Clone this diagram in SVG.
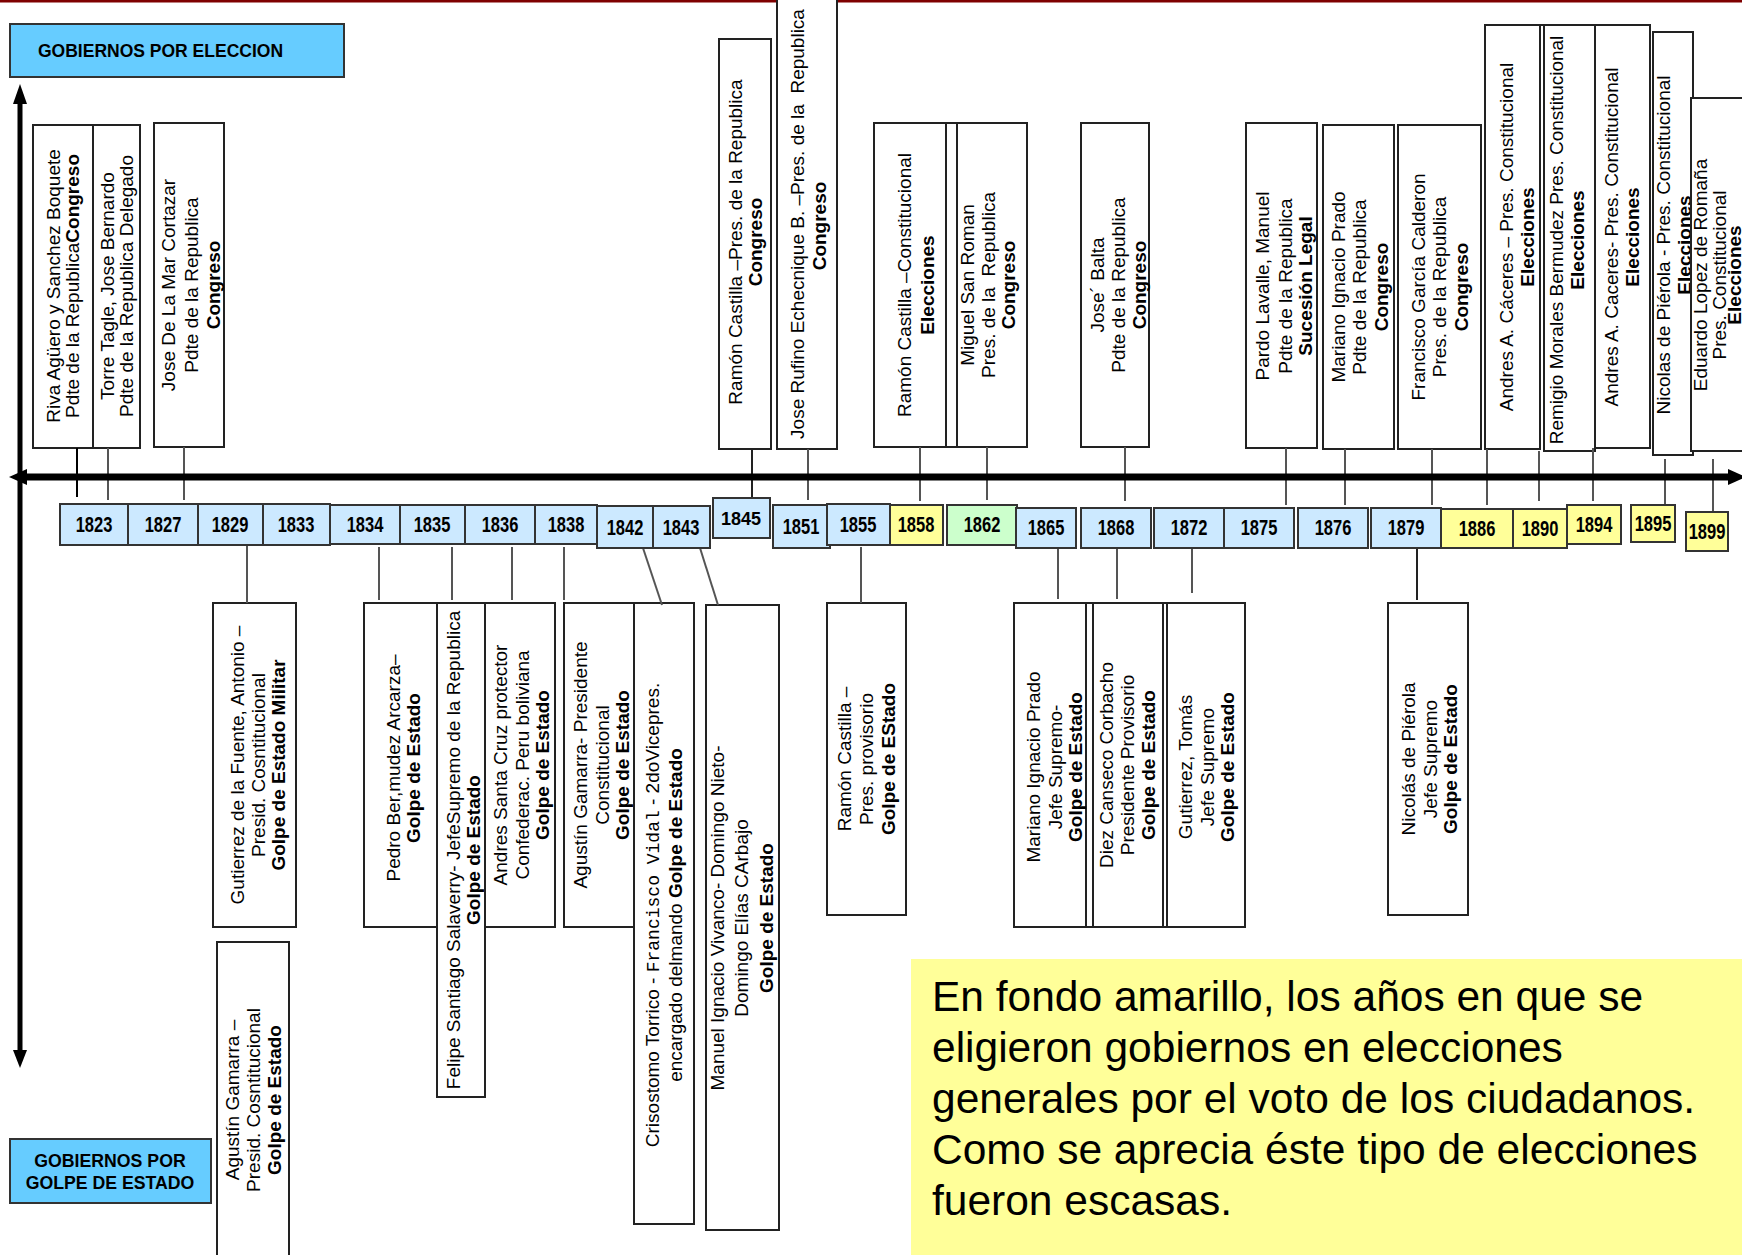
<svg xmlns="http://www.w3.org/2000/svg" width="1742" height="1255" viewBox="0 0 1742 1255">
<style>
.t{font-family:"Liberation Sans",Arial,sans-serif;font-size:19px;fill:#000;text-anchor:middle}
.b{font-weight:bold}
.m{font-family:"Liberation Mono","Courier New",monospace;font-size:18px}
.box{fill:#fff;stroke:#222;stroke-width:2}
.yr{fill:#CCE9FF;stroke:#333;stroke-width:2}
.yy{fill:#FFFF99;stroke:#333;stroke-width:2}
.yg{fill:#CCFFCC;stroke:#333;stroke-width:2}
.yt{font-family:"Liberation Sans",Arial,sans-serif;font-size:22px;font-weight:bold;fill:#000;text-anchor:middle}
.hd{fill:#66CCFF;stroke:#333;stroke-width:2}
.ht{font-family:"Liberation Sans",Arial,sans-serif;font-size:17.5px;font-weight:bold;fill:#000}
.c{stroke:#555;stroke-width:2;fill:none}
.note{font-family:"Liberation Sans",Arial,sans-serif;font-size:42.5px;fill:#000}
</style>
<rect width="1742" height="1255" fill="#fff"/>
<rect x="0" y="0" width="1742" height="2.5" fill="#7F0000"/>

<!-- top boxes (elected) -->
<g id="n-riva"><rect class="box" x="33" y="125" width="60" height="323"/>
<text class="t" transform="translate(60,286) rotate(-90)">Riva Agüero y Sanchez Boquete</text>
<text class="t" transform="translate(79,286) rotate(-90)">Pdte de la Republica<tspan class="b">Congreso</tspan></text></g>
<g id="n-torre"><rect class="box" x="93" y="125" width="47" height="323"/>
<text class="t" transform="translate(114,286) rotate(-90)">Torre Tagle, Jose Bernardo</text>
<text class="t" transform="translate(133,286) rotate(-90)">Pdte de la Republica Delegado</text></g>
<g id="n-lamar"><rect class="box" x="154" y="123" width="70" height="324"/>
<text class="t" transform="translate(175,285) rotate(-90)">Jose De La Mar Cortazar</text>
<text class="t" transform="translate(198,285) rotate(-90)">Pdte de la Republica</text>
<text class="t b" transform="translate(220,285) rotate(-90)">Congreso</text></g>
<g id="n-castilla1"><rect class="box" x="719" y="39" width="52" height="410"/>
<text class="t" transform="translate(742,242) rotate(-90)">Ramón Castilla –Pres. de la Republica</text>
<text class="t b" transform="translate(762,242) rotate(-90)">Congreso</text></g>
<g id="n-rufino"><rect class="box" x="777" y="-5" width="60" height="454"/>
<text class="t" xml:space="preserve" transform="translate(804,224) rotate(-90)">Jose Rufino Echecnique B. –Pres. de la  Republica</text>
<text class="t b" transform="translate(826,226) rotate(-90)">Congreso</text></g>
<g id="n-castilla2"><rect class="box" x="874" y="123" width="75" height="324"/><rect class="box" x="946" y="123" width="11" height="324"/>
<text class="t" transform="translate(911,285) rotate(-90)">Ramón Castilla –Constitucional</text>
<text class="t b" transform="translate(934,285) rotate(-90)">Elecciones</text></g>
<g id="n-sanroman"><rect class="box" x="957" y="123" width="70" height="324"/>
<text class="t" transform="translate(974,285) rotate(-90)">Miguel San Roman</text>
<text class="t" xml:space="preserve" transform="translate(995,285) rotate(-90)">Pres. de la  Republica</text>
<text class="t b" transform="translate(1015,285) rotate(-90)">Congreso</text></g>
<g id="n-balta"><rect class="box" x="1081" y="123" width="68" height="324"/>
<text class="t" transform="translate(1104,285) rotate(-90)">Jose´ Balta</text>
<text class="t" transform="translate(1125,285) rotate(-90)">Pdte de la Republica</text>
<text class="t b" transform="translate(1146,285) rotate(-90)">Congreso</text></g>
<g id="n-pardo"><rect class="box" x="1246" y="123" width="71" height="325"/>
<text class="t" transform="translate(1269,286) rotate(-90)">Pardo Lavalle, Manuel</text>
<text class="t" transform="translate(1292,286) rotate(-90)">Pdte de la Republica</text>
<text class="t b" transform="translate(1312,286) rotate(-90)">Sucesión Legal</text></g>
<g id="n-prado1"><rect class="box" x="1323" y="125" width="71" height="324"/>
<text class="t" transform="translate(1345,287) rotate(-90)">Mariano Ignacio Prado</text>
<text class="t" transform="translate(1366,287) rotate(-90)">Pdte de la Republica</text>
<text class="t b" transform="translate(1388,287) rotate(-90)">Congreso</text></g>
<g id="n-garcia"><rect class="box" x="1398" y="125" width="83" height="324"/>
<text class="t" transform="translate(1425,287) rotate(-90)">Francisco García Calderon</text>
<text class="t" transform="translate(1446,287) rotate(-90)">Pres. de la Republica</text>
<text class="t b" transform="translate(1468,287) rotate(-90)">Congreso</text></g>
<g id="n-caceres1"><rect class="box" x="1485" y="25" width="55" height="424"/>
<text class="t" transform="translate(1513,237) rotate(-90)">Andres A. Cáceres – Pres. Constitucional</text>
<text class="t b" transform="translate(1534,237) rotate(-90)">Elecciones</text></g>
<g id="n-morales"><rect class="box" x="1544" y="25" width="51" height="426"/><line x1="1540" y1="25" x2="1544" y2="25" stroke="#222" stroke-width="2"/>
<text class="t" transform="translate(1563,240) rotate(-90)">Remigio Morales Bermudez Pres. Constitucional</text>
<text class="t b" transform="translate(1584,240) rotate(-90)">Elecciones</text></g>
<g id="n-caceres2"><rect class="box" x="1595" y="25" width="55" height="423"/>
<text class="t" transform="translate(1618,237) rotate(-90)">Andres A. Caceres- Pres. Constitucional</text>
<text class="t b" transform="translate(1639,237) rotate(-90)">Elecciones</text></g>
<g id="n-pierola1"><rect class="box" x="1653" y="32" width="40" height="423"/>
<text class="t" transform="translate(1670,245) rotate(-90)">Nicolas de Piérola - Pres. Constitucional</text>
<text class="t b" text-decoration="underline" transform="translate(1691,245) rotate(-90)">Elecciones</text></g>
<g id="n-romana"><rect class="box" x="1691" y="98" width="70" height="353"/>
<text class="t" transform="translate(1707,275) rotate(-90)">Eduardo Lopez de Romaña</text>
<text class="t" transform="translate(1726,275) rotate(-90)">Pres. Constitucional</text>
<text class="t b" transform="translate(1741,275) rotate(-90)">Elecciones</text></g>

<!-- bottom boxes (coups) -->
<g id="n-gutierrez"><rect class="box" x="213" y="603" width="83" height="324"/>
<text class="t" transform="translate(244,765) rotate(-90)">Gutierrez de la Fuente, Antonio –</text>
<text class="t" transform="translate(265,765) rotate(-90)">Presid. Cosntitucional</text>
<text class="t b" transform="translate(285,765) rotate(-90)">Golpe de Estado Militar</text></g>
<g id="n-gamarra1"><rect class="box" x="217" y="942" width="72" height="330"/>
<text class="t" transform="translate(239,1100) rotate(-90)">Agustín Gamarra –</text>
<text class="t" transform="translate(260,1100) rotate(-90)">Presid. Cosntitucional</text>
<text class="t b" transform="translate(281,1100) rotate(-90)">Golpe de Estado</text></g>
<g id="n-bermudez"><rect class="box" x="364" y="603" width="73" height="324"/>
<text class="t" transform="translate(400,768) rotate(-90)">Pedro Ber,mudez Arcarza–</text>
<text class="t b" transform="translate(420,768) rotate(-90)">Golpe de Estado</text></g>
<g id="n-salaverry"><rect class="box" x="437" y="603" width="48" height="494" stroke-width="3"/>
<text class="t" transform="translate(460,850) rotate(-90)">Felipe Santiago Salaverry- JefeSupremo de la Republica</text>
<text class="t b" transform="translate(480,850) rotate(-90)">Golpe de Estado</text></g>
<g id="n-santacruz"><rect class="box" x="485" y="603" width="70" height="324"/>
<text class="t" transform="translate(507,765) rotate(-90)">Andres Santa Cruz protector</text>
<text class="t" transform="translate(529,765) rotate(-90)">Confederac. Peru boliviana</text>
<text class="t b" transform="translate(549,765) rotate(-90)">Golpe de Estado</text></g>
<g id="n-gamarra2"><rect class="box" x="564" y="603" width="70" height="324"/>
<text class="t" transform="translate(587,765) rotate(-90)">Agustín Gamarra- Presidente</text>
<text class="t" transform="translate(609,765) rotate(-90)">Constitucional</text>
<text class="t b" transform="translate(629,765) rotate(-90)">Golpe de Estado</text></g>
<g id="n-torrico"><rect class="box" x="634" y="603" width="60" height="621"/>
<text class="t" transform="translate(659,915) rotate(-90)">Crisostomo Torrico - <tspan class="m">Francisco Vidal</tspan> - 2doVicepres.</text>
<text class="t" transform="translate(682,915) rotate(-90)">encargado delmando <tspan class="b">Golpe de Estado</tspan></text></g>
<g id="n-vivanco"><rect class="box" x="706" y="605" width="73" height="625"/>
<text class="t" transform="translate(724,918) rotate(-90)">Manuel Ignacio Vivanco- Domingo Nieto-</text>
<text class="t" transform="translate(748,918) rotate(-90)">Domingo Elías CArbajo</text>
<text class="t b" transform="translate(773,918) rotate(-90)">Golpe de Estado</text></g>
<g id="n-castilla3"><rect class="box" x="827" y="603" width="79" height="312"/>
<text class="t" transform="translate(851,759) rotate(-90)">Ramón Castilla –</text>
<text class="t" transform="translate(873,759) rotate(-90)">Pres. provisorio</text>
<text class="t b" transform="translate(895,759) rotate(-90)">Golpe de EStado</text></g>
<g id="n-prado2"><rect class="box" x="1014" y="603" width="72" height="324"/><rect class="box" x="1086" y="603" width="7" height="324"/>
<text class="t" transform="translate(1040,767) rotate(-90)">Mariano Ignacio Prado</text>
<text class="t" transform="translate(1062,767) rotate(-90)">Jefe Supremo-</text>
<text class="t b" transform="translate(1082,767) rotate(-90)">Golpe de Estado</text></g>
<g id="n-canseco"><rect class="box" x="1093" y="603" width="70" height="324"/><rect class="box" x="1163" y="603" width="4" height="324"/>
<text class="t" transform="translate(1113,765) rotate(-90)">Diez Canseco Corbacho</text>
<text class="t" transform="translate(1134,765) rotate(-90)">Presidente Provisorio</text>
<text class="t b" transform="translate(1155,765) rotate(-90)">Golpe de Estado</text></g>
<g id="n-gutierrez2"><rect class="box" x="1167" y="603" width="78" height="324"/>
<text class="t" transform="translate(1192,767) rotate(-90)">Gutierrez, Tomás</text>
<text class="t" transform="translate(1214,767) rotate(-90)">Jefe Supremo</text>
<text class="t b" transform="translate(1234,767) rotate(-90)">Golpe de Estado</text></g>
<g id="n-pierola2"><rect class="box" x="1388" y="603" width="80" height="312"/>
<text class="t" transform="translate(1415,759) rotate(-90)">Nicolás de Piérola</text>
<text class="t" transform="translate(1437,759) rotate(-90)">Jefe Supremo</text>
<text class="t b" transform="translate(1457,759) rotate(-90)">Golpe de Estado</text></g>

<!-- connectors -->
<g id="connectors">
<line x1="77" y1="448" x2="77" y2="497" stroke="#000" stroke-width="2"/>
<line class="c" x1="108" y1="448" x2="108" y2="500"/>
<line class="c" x1="184" y1="447" x2="184" y2="500"/>
<line x1="752" y1="449" x2="752" y2="498" stroke="#222" stroke-width="2"/>
<line class="c" x1="808" y1="449" x2="808" y2="500"/>
<line class="c" x1="920" y1="447" x2="920" y2="501"/>
<line class="c" x1="987" y1="447" x2="987" y2="500"/>
<line class="c" x1="1125" y1="447" x2="1125" y2="501"/>
<line class="c" x1="1286" y1="448" x2="1286" y2="505"/>
<line class="c" x1="1345" y1="449" x2="1345" y2="505"/>
<line class="c" x1="1432" y1="449" x2="1432" y2="505"/>
<line class="c" x1="1487" y1="449" x2="1487" y2="505"/>
<line class="c" x1="1539" y1="451" x2="1539" y2="501"/>
<line class="c" x1="1593" y1="448" x2="1593" y2="501"/>
<line class="c" x1="1665" y1="459" x2="1665" y2="510"/>
<line class="c" x1="1713" y1="459" x2="1713" y2="512"/>
<line class="c" x1="247" y1="545" x2="247" y2="603"/>
<line class="c" x1="379" y1="547" x2="379" y2="600"/>
<line class="c" x1="452" y1="547" x2="452" y2="600"/>
<line class="c" x1="512" y1="547" x2="512" y2="600"/>
<line class="c" x1="564" y1="547" x2="564" y2="600"/>
<line class="c" x1="643" y1="548" x2="662" y2="605"/>
<line class="c" x1="700" y1="548" x2="718" y2="605"/>
<line class="c" x1="861" y1="547" x2="861" y2="603"/>
<line class="c" x1="1058" y1="548" x2="1058" y2="599"/>
<line class="c" x1="1117" y1="548" x2="1117" y2="599"/>
<line class="c" x1="1192" y1="548" x2="1192" y2="593"/>
<line x1="1417" y1="548" x2="1417" y2="600" stroke="#222" stroke-width="2"/>
</g>

<!-- axes -->
<g id="axes">
<line x1="20" y1="100" x2="20" y2="1052" stroke="#000" stroke-width="5"/>
<polygon points="20,84 13,104 27,104" fill="#000"/>
<polygon points="20,1068 13,1050 27,1050" fill="#000"/>
<line x1="22" y1="477" x2="1730" y2="477" stroke="#000" stroke-width="7"/>
<polygon points="9,477 27,469 27,485" fill="#000"/>
<polygon points="1746,477 1728,469 1728,485" fill="#000"/>
</g>

<!-- years -->
<g id="y1823"><rect class="yr" x="60" y="504" width="68" height="41"/><text class="yt" transform="translate(94,532) scale(0.75,1)">1823</text></g>
<g id="y1827"><rect class="yr" x="128" y="504" width="70" height="41"/><text class="yt" transform="translate(163,532) scale(0.75,1)">1827</text></g>
<g id="y1829"><rect class="yr" x="198" y="504" width="65" height="41"/><text class="yt" transform="translate(230,532) scale(0.75,1)">1829</text></g>
<g id="y1833"><rect class="yr" x="263" y="504" width="67" height="41"/><text class="yt" transform="translate(296,532) scale(0.75,1)">1833</text></g>
<g id="y1834"><rect class="yr" x="330" y="505" width="70" height="39"/><text class="yt" transform="translate(365,532) scale(0.75,1)">1834</text></g>
<g id="y1835"><rect class="yr" x="400" y="505" width="65" height="39"/><text class="yt" transform="translate(432,532) scale(0.75,1)">1835</text></g>
<g id="y1836"><rect class="yr" x="465" y="505" width="70" height="39"/><text class="yt" transform="translate(500,532) scale(0.75,1)">1836</text></g>
<g id="y1838"><rect class="yr" x="535" y="505" width="62" height="39"/><text class="yt" transform="translate(566,532) scale(0.75,1)">1838</text></g>
<g id="y1842"><rect class="yr" x="597" y="506" width="56" height="42"/><text class="yt" transform="translate(625,535) scale(0.75,1)">1842</text></g>
<g id="y1843"><rect class="yr" x="653" y="506" width="57" height="42"/><text class="yt" transform="translate(681,535) scale(0.75,1)">1843</text></g>
<g id="y1845"><rect class="yr" x="713" y="498" width="57" height="40"/><text class="yt" style="font-size:18px" x="741" y="525">1845</text></g>
<g id="y1851"><rect class="yr" x="773" y="505" width="57" height="43"/><text class="yt" transform="translate(801,534) scale(0.75,1)">1851</text></g>
<g id="y1855"><rect class="yr" x="827" y="504" width="63" height="41"/><text class="yt" transform="translate(858,532) scale(0.75,1)">1855</text></g>
<g id="y1858"><rect class="yy" x="890" y="505" width="53" height="40"/><text class="yt" transform="translate(916,532) scale(0.75,1)">1858</text></g>
<g id="y1862"><rect class="yg" x="947" y="505" width="70" height="40"/><text class="yt" transform="translate(982,532) scale(0.75,1)">1862</text></g>
<g id="y1865"><rect class="yr" x="1016" y="508" width="60" height="40"/><text class="yt" transform="translate(1046,535) scale(0.75,1)">1865</text></g>
<g id="y1868"><rect class="yr" x="1081" y="508" width="70" height="40"/><text class="yt" transform="translate(1116,535) scale(0.75,1)">1868</text></g>
<g id="y1872"><rect class="yr" x="1154" y="508" width="70" height="40"/><text class="yt" transform="translate(1189,535) scale(0.75,1)">1872</text></g>
<g id="y1875"><rect class="yr" x="1224" y="508" width="70" height="40"/><text class="yt" transform="translate(1259,535) scale(0.75,1)">1875</text></g>
<g id="y1876"><rect class="yr" x="1298" y="508" width="70" height="40"/><text class="yt" transform="translate(1333,535) scale(0.75,1)">1876</text></g>
<g id="y1879"><rect class="yr" x="1371" y="508" width="70" height="40"/><text class="yt" transform="translate(1406,535) scale(0.75,1)">1879</text></g>
<g id="y1886"><rect class="yy" x="1441" y="509" width="72" height="39"/><text class="yt" transform="translate(1477,536) scale(0.75,1)">1886</text></g>
<g id="y1890"><rect class="yy" x="1513" y="509" width="54" height="39"/><text class="yt" transform="translate(1540,536) scale(0.75,1)">1890</text></g>
<g id="y1894"><rect class="yy" x="1567" y="505" width="54" height="39"/><text class="yt" transform="translate(1594,532) scale(0.75,1)">1894</text></g>
<g id="y1895"><rect class="yy" x="1631" y="505" width="44" height="37"/><text class="yt" transform="translate(1653,531) scale(0.75,1)">1895</text></g>
<g id="y1899"><rect class="yy" x="1686" y="512" width="42" height="39"/><text class="yt" transform="translate(1707,539) scale(0.75,1)">1899</text></g>

<!-- headers -->
<g id="h-eleccion"><rect class="hd" x="10" y="24" width="334" height="53"/><text class="ht" x="38" y="57">GOBIERNOS POR ELECCION</text></g>
<g id="h-golpe"><rect class="hd" x="10" y="1139" width="201" height="64"/>
<text class="ht" x="110" y="1167" text-anchor="middle" style="font-size:17.7px">GOBIERNOS POR</text>
<text class="ht" x="110" y="1189" text-anchor="middle" style="font-size:17.7px">GOLPE DE ESTADO</text></g>

<!-- note -->
<g id="note"><rect x="911" y="959" width="840" height="300" fill="#FFFF99"/>
<text class="note" x="932" y="1011">En fondo amarillo, los años en que se</text>
<text class="note" x="932" y="1062">eligieron gobiernos en elecciones</text>
<text class="note" x="932" y="1113">generales por el voto de los ciudadanos.</text>
<text class="note" x="932" y="1164">Como se aprecia éste tipo de elecciones</text>
<text class="note" x="932" y="1215">fueron escasas.</text></g>
</svg>
